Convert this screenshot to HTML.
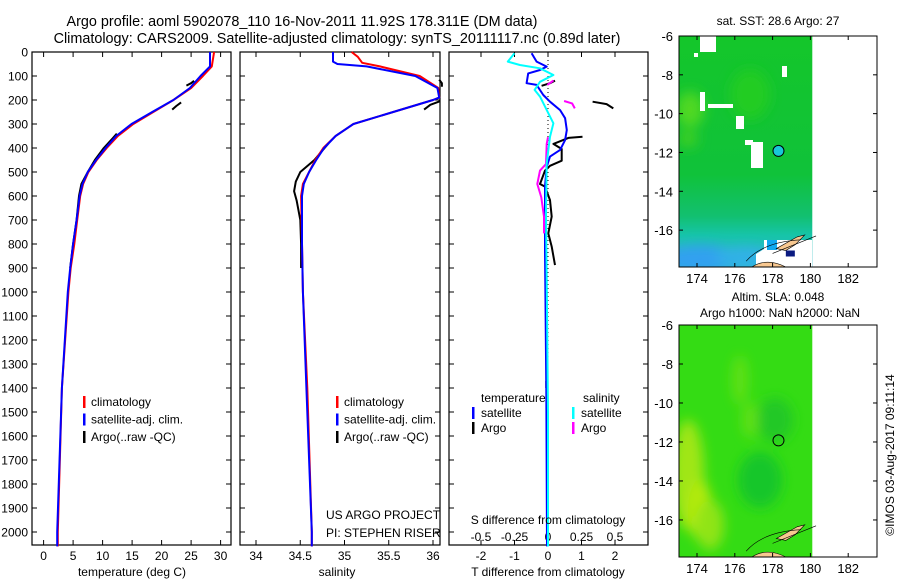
<!DOCTYPE html>
<html><head><meta charset="utf-8">
<style>
body{margin:0;background:#fff;width:900px;height:580px;overflow:hidden}
svg{font-family:"Liberation Sans",sans-serif;font-size:12px}
</style></head>
<body>
<svg id="c" width="900" height="580" viewBox="0 0 900 580">
<defs>
<clipPath id="clip1"><rect x="679" y="36" width="198" height="231"/></clipPath>
<clipPath id="clip2"><rect x="679" y="325" width="198" height="232"/></clipPath>
<linearGradient id="sstg" x1="0" y1="0" x2="0" y2="1">
<stop offset="0" stop-color="#14c62a"/><stop offset="0.6" stop-color="#10c23a"/>
<stop offset="0.78" stop-color="#12c070"/><stop offset="0.86" stop-color="#16c4a8"/>
<stop offset="1" stop-color="#30b8d0"/></linearGradient>
<filter id="blur" x="-50%" y="-50%" width="200%" height="200%"><feGaussianBlur stdDeviation="6"/></filter>
</defs>
<text x="302" y="26" text-anchor="middle" font-size="14.4">Argo profile: aoml 5902078_110 16-Nov-2011 11.92S 178.311E (DM data)</text>
<text x="337" y="43" text-anchor="middle" font-size="14.4">Climatology: CARS2009. Satellite-adjusted climatology: synTS_20111117.nc (0.89d later)</text>
<g id="maps"></g>
<g id="plots"></g>
</svg>
<script>
// ---------- data ----------
const depthTicks=[0,100,200,300,400,500,600,700,800,900,1000,1100,1200,1300,1400,1500,1600,1700,1800,1900,2000];
const tempTicks=[0,5,10,15,20,25,30];
const salTicks=[34,34.5,35,35.5,36];
const salTickLabels=["34","34.5","35","35.5","36"];
const tdTicks=[-2,-1,0,1,2];
const sdTicks=[-0.5,-0.25,0,0.25,0.5];
const sdTickLabels=["-0.5","-0.25","0","0.25","0.5"];

const tClimDepth=[0,60,100,150,200,250,300,350,400,450,500,550,600,700,800,900,1000,1400,2000,2060];
const tClimVal=[28.9,28.5,27,25,22,18.6,15.2,12.6,10.7,9,7.6,6.7,6.2,5.7,5.2,4.6,4.2,3.1,2.4,2.4];
const tSatDepth=[0,60,100,150,200,250,300,350,400,450,500,550,600,700,800,900,1000,1400,2000,2060];
const tSatVal=[28.2,28.2,26.6,24.8,22,18.4,14.9,12.3,10.5,8.9,7.5,6.6,6.1,5.6,5.0,4.5,4.1,3.1,2.3,2.3];
const tArgoSeg1D=[120,130,140];const tArgoSeg1V=[25.5,25,24.2];
const tArgoSeg2D=[210,225,240];const tArgoSeg2V=[23.3,22.5,21.8];
const tArgoSeg3D=[340,360,400,450,500,550,600,700,800,900];const tArgoSeg3V=[12.4,11.7,10.2,8.7,7.5,6.4,6.0,5.6,5.0,4.5];

const sClimDepth=[0,20,45,60,100,150,190,200,250,300,350,400,450,500,550,600,800,1000,1400,2000,2060];
const sClimVal=[35.08,35.15,35.2,35.4,35.85,36.06,36.07,36.0,35.55,35.1,34.9,34.76,34.67,34.6,34.53,34.51,34.52,34.53,34.58,34.63,34.63];
const sSatDepth=[0,40,50,60,100,150,190,200,250,300,350,400,450,500,550,600,800,1000,1400,2000,2060];
const sSatVal=[34.87,34.87,34.92,35.25,35.8,36.05,36.07,36.0,35.55,35.1,34.9,34.77,34.68,34.6,34.54,34.52,34.52,34.53,34.57,34.63,34.63];
const sArgoSeg1D=[115,130,145];const sArgoSeg1V=[36.07,36.1,36.1];
const sArgoSeg2D=[205,220,240];const sArgoSeg2V=[36.08,35.97,35.9];
const sArgoSeg3D=[380,450,500,540,580,620,700,800,900];const sArgoSeg3V=[34.82,34.66,34.5,34.45,34.43,34.46,34.5,34.51,34.51];

const tdSatDepth=[5,40,61,75,89,130,137,179,207,242,276,325,367,408,436,478,561,825,1400,2060];
const tdSatVal=[-0.49,-0.34,-0.04,-0.24,-0.59,-0.64,-0.34,-0.14,0.06,0.36,0.51,0.56,0.51,0.36,0.06,-0.04,-0.09,-0.09,-0.05,-0.03];
const sdSatDepth=[5,40,54,68,96,124,158,186,269,297,353,464,672,943,1500,2060];
const sdSatVal=[-0.25,-0.30,-0.21,-0.06,0.04,-0.06,-0.10,-0.06,0.015,0.04,0.015,-0.01,-0.015,-0.01,0.0,0.0];
const tdArgo1D=[141,130,119];const tdArgo1V=[-0.19,0.06,0.21];
const tdArgo2D=[207,217,235];const tdArgo2V=[1.33,1.75,1.95];
const tdArgo3D=[353,358,383,404,453,474,494,550,561,617,686,756,811,888];
const tdArgo3V=[1.03,0.61,0.16,0.41,0.41,0.06,-0.09,-0.24,-0.09,0.06,0.11,0.01,0.11,0.21];
const tdArgo4D=[1370,1400];const tdArgo4V=[-0.05,-0.05];
const sdArgo1D=[137,119];const sdArgo1V=[-0.005,0.04];
const sdArgo2D=[204,214,235];const sdArgo2V=[0.12,0.18,0.2];
const sdArgo3D=[355,383,467,494,550,606,686,756];
const sdArgo3V=[0.0,-0.01,-0.015,-0.06,-0.08,-0.05,-0.03,-0.03];

const latTicks=[-6,-8,-10,-12,-14,-16];
const lonTicks=[174,176,178,180,182];
const argoLat=-11.92, argoLon=178.311;

// ---------- helpers ----------
const NS='http://www.w3.org/2000/svg';
const P=document.getElementById('plots');
const M=document.getElementById('maps');
function mk(tag,attrs,parent){const e=document.createElementNS(NS,tag);for(const k in attrs)e.setAttribute(k,attrs[k]);(parent||P).appendChild(e);return e;}
const top0=52,bot=545;
const yD=d=>top0+d*0.24;
const xT=t=>43.6+t*5.9;
const xS=s=>256+(s-34)*88.5;
const xTD=t=>548+t*33.5;
const xSD=s=>548+s*134;
function line(ds,vs,fx,color,w,name){
  const pts=ds.map((d,i)=>fx(vs[i]).toFixed(1)+','+yD(d).toFixed(1)).join(' ');
  const e=mk('polyline',{points:pts,fill:'none',stroke:color,'stroke-width':w,'stroke-linejoin':'round'});
  
  
}
function panel(x0,x1,name){
  const r=mk('rect',{x:x0,y:top0,width:x1-x0,height:bot-top0,fill:'none',stroke:'#000','stroke-width':1.2});
  
  
  depthTicks.forEach(d=>{
    mk('line',{x1:x0,x2:x0+5,y1:yD(d),y2:yD(d),stroke:'#000'});
    mk('line',{x1:x1,x2:x1-5,y1:yD(d),y2:yD(d),stroke:'#000'});
  });
}
function txt(x,y,s,anchor,name,size){
  const e=mk('text',{x:x,y:y,'text-anchor':anchor||'start'});
  if(size)e.setAttribute('font-size',size);
  e.textContent=s;
  
  
  return e;
}
function xTicks(vals,labels,fx,ylab,name){
  vals.forEach((v,i)=>{
    const x=fx(v);
    mk('line',{x1:x,x2:x,y1:top0,y2:top0+5,stroke:'#000'});
    mk('line',{x1:x,x2:x,y1:bot,y2:bot-5,stroke:'#000'});
    if(labels)txt(x,ylab,labels[i],'middle',name);
  });
}
depthTicks.forEach(d=>txt(28,yD(d)+4.5,String(d),'end','depth-tick-label'));

// panel 1 temperature
panel(32,231,'temperature-panel');
xTicks(tempTicks,tempTicks.map(String),xT,560,'temperature-tick-label');
line(tArgoSeg1D,tArgoSeg1V,xT,'#000',2,'temp-argo-line');
line(tArgoSeg2D,tArgoSeg2V,xT,'#000',2,'temp-argo-line');
line(tArgoSeg3D,tArgoSeg3V,xT,'#000',2,'temp-argo-line');
line(tClimDepth,tClimVal,xT,'#f00',2,'temp-climatology-line');
line(tSatDepth,tSatVal,xT,'#00f',2,'temp-satellite-line');
txt(132,576,'temperature (deg C)','middle','temperature-axis-title');
function legend3(x,y,name){
  [['#f00','climatology'],['#00f','satellite-adj. clim.'],['#000','Argo(..raw -QC)']].forEach((it,i)=>{
    const b=mk('rect',{x:x,y:y+i*17.5-10,width:2.5,height:12,fill:it[0]});
    
    
    txt(x+8,y+i*17.5,it[1],'start',name);
  });
}
legend3(83,406,'legend-entry');

// panel 2 salinity
panel(240,440,'salinity-panel');
xTicks(salTicks,salTickLabels,xS,560,'salinity-tick-label');
line(sArgoSeg1D,sArgoSeg1V,xS,'#000',2,'sal-argo-line');
line(sArgoSeg2D,sArgoSeg2V,xS,'#000',2,'sal-argo-line');
line(sArgoSeg3D,sArgoSeg3V,xS,'#000',2,'sal-argo-line');
line(sClimDepth,sClimVal,xS,'#f00',2,'sal-climatology-line');
line(sSatDepth,sSatVal,xS,'#00f',2,'sal-satellite-line');
txt(337,576,'salinity','middle','salinity-axis-title');
legend3(336,406,'legend-entry');
txt(326,519,'US ARGO PROJECT','start','project-label');
txt(326,537,'PI: STEPHEN RISER','start','pi-label');

// panel 3 differences
panel(449,648,'difference-panel');
xTicks(tdTicks,null,xTD,0,'');
tdTicks.forEach(v=>txt(xTD(v),560,String(v),'middle','tdiff-tick-label'));
sdTicks.forEach((v,i)=>txt(xSD(v),541,sdTickLabels[i],'middle','sdiff-tick-label'));
mk('line',{x1:548,x2:548,y1:top0,y2:bot,stroke:'#000','stroke-dasharray':'1,3'});
line(tdArgo1D,tdArgo1V,xTD,'#000',2,'tdiff-argo-line');
line(tdArgo2D,tdArgo2V,xTD,'#000',2,'tdiff-argo-line');
line(tdArgo3D,tdArgo3V,xTD,'#000',2,'tdiff-argo-line');
line(tdArgo4D,tdArgo4V,xTD,'#000',2,'tdiff-argo-line');
line(tdSatDepth,tdSatVal,xTD,'#00f',2,'tdiff-satellite-line');
line(sdArgo1D,sdArgo1V,xSD,'#f0f',2,'sdiff-argo-line');
line(sdArgo2D,sdArgo2V,xSD,'#f0f',2,'sdiff-argo-line');
line(sdArgo3D,sdArgo3V,xSD,'#f0f',2,'sdiff-argo-line');
line(sdSatDepth,sdSatVal,xSD,'#0ff',2,'sdiff-satellite-line');
txt(548,576,'T difference from climatology','middle','tdiff-axis-title');
txt(548,524,'S difference from climatology','middle','sdiff-axis-title');
txt(481,402,'temperature','start','legend-header-temperature');
txt(583,402,'salinity','start','legend-header-salinity');
[[472,'#00f','satellite'],[572,'#0ff','satellite']].forEach(a=>{const b=mk('rect',{x:a[0],y:407,width:2.5,height:12,fill:a[1]});txt(a[0]+9,417,a[2],'start','legend-entry');});
[[472,'#000','Argo'],[572,'#f0f','Argo']].forEach(a=>{const b=mk('rect',{x:a[0],y:422,width:2.5,height:12,fill:a[1]});txt(a[0]+9,432,a[2],'start','legend-entry');});

// ---------- maps ----------
function map(y0,y1,kind,name,clip){
  const x0=679,x1=877;
  const fx=l=>697+(l-174)*18.9;
  const fy=la=>y0+(-6-la)*((y1-y0)/11.9);
  const g=mk('g',{},M);
  
  
  const gc=mk('g',{'clip-path':'url(#'+clip+')'},g);
  const xe=fx(180.1);
  if(kind==='sst'){
    mk('rect',{x:x0,y:y0,width:xe-x0,height:y1-y0,fill:'url(#sstg)'},gc);
    const gb=mk('g',{filter:'url(#blur)'},gc);
    mk('ellipse',{cx:690,cy:fy(-9.8),rx:14,ry:18,fill:'#50d820'},gb);
    mk('ellipse',{cx:688,cy:fy(-11.3),rx:10,ry:8,fill:'#40d020'},gb);
    mk('ellipse',{cx:750,cy:fy(-9),rx:20,ry:25,fill:'#22cc22'},gb);
    mk('ellipse',{cx:700,cy:fy(-17.5),rx:40,ry:14,fill:'#30a0f0'},gb);
    mk('ellipse',{cx:745,cy:fy(-17.4),rx:30,ry:10,fill:'#30b0e8'},gb);
    [[700,36,15,16],[704,36,12,16],[694,53,4,4],[700,92,5,19],[708,104,25,4],[736,116,8,13],[745,140,8,5],[751,142,12,26],[782,66,5,11]].forEach(r=>mk('rect',{x:r[0],y:r[1],width:r[2],height:r[3],fill:'#fff'},gc));
    mk('path',{d:`M756,267 L756,254 L764,249 L764,240 L812,240 L812,267 Z`,fill:'#fff'},gc);
    mk('rect',{x:767,y:240,width:10,height:10,fill:'#10a8f0'},gc);
  } else {
    mk('rect',{x:x0,y:y0,width:xe-x0,height:y1-y0,fill:'#34dc14'},gc);
    const gb=mk('g',{filter:'url(#blur)'},gc);
    mk('ellipse',{cx:688,cy:y0+150,rx:16,ry:55,fill:'#a0e614'},gb);
    mk('ellipse',{cx:700,cy:y0+185,rx:12,ry:30,fill:'#b4ea10'},gb);
    mk('ellipse',{cx:710,cy:y0+200,rx:14,ry:25,fill:'#90e418'},gb);
    mk('ellipse',{cx:760,cy:y0+155,rx:22,ry:28,fill:'#18c62a'},gb);
    mk('ellipse',{cx:775,cy:y0+95,rx:18,ry:22,fill:'#20c826'},gb);
    mk('ellipse',{cx:740,cy:y0+55,rx:8,ry:25,fill:'#60e014'},gb);
    mk('ellipse',{cx:750,cy:y0+95,rx:8,ry:18,fill:'#60e014'},gb);
  }
  mk('path',{d:`M${fx(176.9)},${y1} Q${fx(177.7)},${fy(-17.4)} ${fx(178.7)},${y1} Z`,fill:'#f8c890',stroke:'#000','stroke-width':0.6},gc);
  mk('path',{d:`M${fx(178.2)},${fy(-16.95)} L${fx(179.3)},${fy(-16.35)} L${fx(179.7)},${fy(-16.25)} L${fx(179.2)},${fy(-16.75)} L${fx(178.7)},${fy(-17.05)} Z`,fill:'#f8c890',stroke:'#000','stroke-width':0.6},gc);
  mk('path',{d:`M${fx(176.6)},${fy(-17.6)} Q${fx(177.5)},${fy(-16.6)} ${fx(179.5)},${fy(-16.5)} M${fx(178)},${fy(-17.2)} L${fx(180.3)},${fy(-16.3)}`,fill:'none',stroke:'#000','stroke-width':0.6},gc);
  if(kind==='sst') mk('rect',{x:fx(178.7),y:fy(-17.05),width:9,height:6,fill:'#0a1a80'},gc);
  mk('rect',{x:x0,y:y0,width:x1-x0,height:y1-y0,fill:'none',stroke:'#000','stroke-width':1},g);
  latTicks.forEach(la=>{const y=fy(la);mk('line',{x1:x0,x2:x0+4,y1:y,y2:y,stroke:'#000'},g);mk('line',{x1:x1,x2:x1-4,y1:y,y2:y,stroke:'#000'},g);txt(673,y+5,String(la),'end','latitude-tick-label',13);});
  lonTicks.forEach(lo=>{const x=fx(lo);mk('line',{x1:x,x2:x,y1:y0,y2:y0+4,stroke:'#000'},g);mk('line',{x1:x,x2:x,y1:y1,y2:y1-4,stroke:'#000'},g);txt(x,y1+16,String(lo),'middle','longitude-tick-label',13);});
  const c=mk('circle',{cx:fx(argoLon),cy:fy(argoLat),r:5.5,fill:kind==='sst'?'#18c8d8':'none',stroke:'#000','stroke-width':1},g);
  
  
}
map(36,267,'sst','sst-map','clip1');
map(325,557,'sla','sla-map','clip2');
txt(778,25,'sat. SST: 28.6 Argo: 27','middle','sst-map-title');
txt(778,301,'Altim. SLA: 0.048','middle','sla-map-title');
txt(780,317,'Argo h1000: NaN h2000: NaN','middle','sla-map-subtitle');
const st=txt(0,0,'©IMOS 03-Aug-2017 09:11:14','middle','imos-stamp');
st.setAttribute('transform','translate(894,455) rotate(-90)');
</script>
</body></html>
